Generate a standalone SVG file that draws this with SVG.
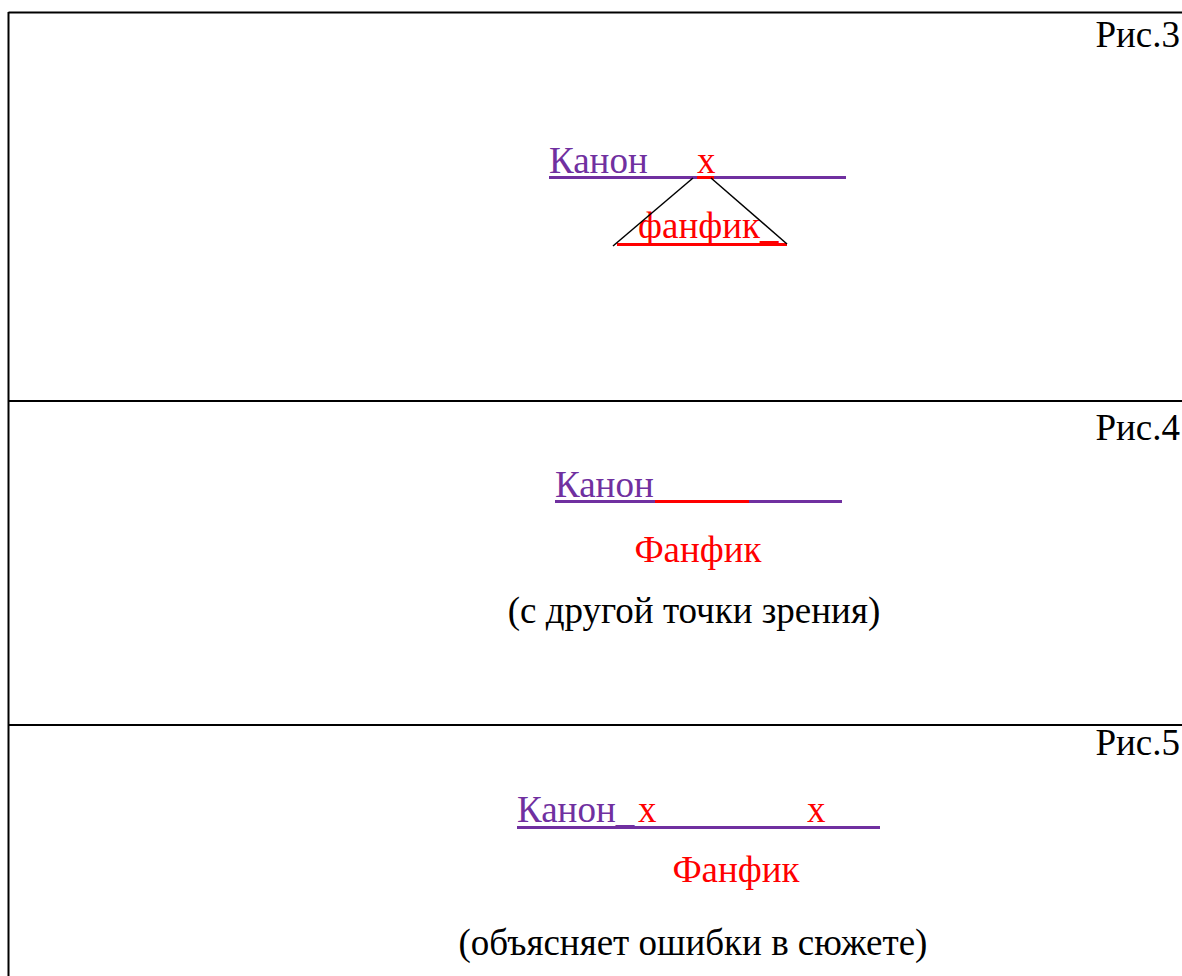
<svg xmlns="http://www.w3.org/2000/svg" width="1182" height="976" viewBox="0 0 1182 976">
  <style>
    .t { font-family: "Liberation Serif", "Times New Roman", serif; font-size: 37px; }
    .purple { fill: #7030A0; }
    .red { fill: #FF0000; }
    .black { fill: #000000; }
    .frame { stroke: #000; stroke-width: 2; fill: none; }
    .ulp { stroke: #7030A0; stroke-width: 3; }
    .ulr { stroke: #FF0000; stroke-width: 3; }
    .edge { stroke: #000; stroke-width: 1.5; }
  </style>
  <rect width="1182" height="976" fill="#fff"/>

  <!-- table frame -->
  <g id="frame">
    <line class="frame" x1="8.5" y1="12.5" x2="1182" y2="12.5"/>
    <line class="frame" x1="8.5" y1="12" x2="8.5" y2="976"/>
    <line class="frame" x1="8.5" y1="401" x2="1182" y2="401"/>
    <line class="frame" x1="8.5" y1="725" x2="1182" y2="725"/>
  </g>

  <!-- figure 3 -->
  <g id="fig3">
    <text class="t black" x="1180" y="47" text-anchor="end">Рис.3</text>
    <g id="fig3-canon">
      <text class="t purple" x="549" y="173">Канон__</text>
      <text class="t red" x="697" y="173">x</text>
      <line class="ulp" x1="549" y1="177.5" x2="846" y2="177.5"/>
      <line class="ulr" x1="697" y1="177.5" x2="714" y2="177.5"/>
    </g>
    <g id="fig3-fanfic">
      <text class="t red" x="638" y="238">фанфик_</text>
      <line class="ulr" x1="617" y1="244.5" x2="787" y2="244.5"/>
    </g>
  </g>

  <!-- figure 4 -->
  <g id="fig4">
    <text class="t black" x="1180" y="440" text-anchor="end">Рис.4</text>
    <g id="fig4-canon">
      <text class="t purple" x="555" y="497">Канон</text>
      <line class="ulp" x1="555" y1="501.5" x2="655" y2="501.5"/>
      <line class="ulr" x1="655" y1="501.5" x2="749" y2="501.5"/>
      <line class="ulp" x1="749" y1="501.5" x2="842" y2="501.5"/>
    </g>
    <g id="fig4-fanfic">
      <text class="t red" x="698" y="562" text-anchor="middle">Фанфик</text>
      <text class="t black" x="694" y="623" text-anchor="middle">(с другой точки зрения)</text>
    </g>
  </g>

  <!-- figure 5 -->
  <g id="fig5">
    <text class="t black" x="1180" y="755" text-anchor="end">Рис.5</text>
    <g id="fig5-canon">
      <text class="t purple" x="517" y="822">Канон_</text>
      <text class="t red" x="638" y="822">x</text>
      <text class="t red" x="807" y="822">x</text>
      <line class="ulp" x1="517" y1="827.5" x2="880" y2="827.5"/>
    </g>
    <g id="fig5-fanfic">
      <text class="t red" x="736" y="882" text-anchor="middle">Фанфик</text>
      <text class="t black" x="693" y="955" text-anchor="middle">(объясняет ошибки в сюжете)</text>
    </g>
  </g>

  <!-- connectors -->
  <g id="connectors">
    <line class="edge" x1="613" y1="246" x2="693" y2="178"/>
    <line class="edge" x1="711" y1="178" x2="787" y2="244"/>
  </g>
</svg>
